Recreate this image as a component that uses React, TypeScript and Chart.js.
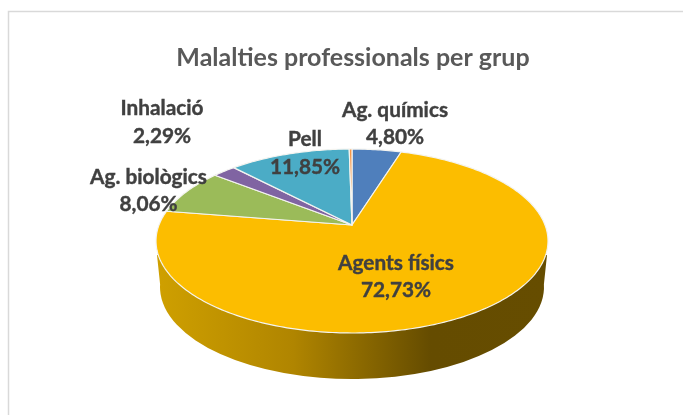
import React, { useEffect, useRef } from "react";
import { Chart, registerables } from "chart.js";

Chart.register(...registerables);

const categories = ["Ag. químics", "Agents físics", "Ag. biològics", "Inhalació", "Pell", "Altres"];
const shares = [4.8, 72.73, 8.06, 2.29, 11.85, 0.27];
const colors = ["#4f7fbc", "#fcbd00", "#9bbb59", "#8064a2", "#4bacc6", "#f79646"];

const FONT = "Lato, Carlito, sans-serif";

// Tilted-disc projection of the pie (plane circle -> screen)
const view = { cx: 352, cy: 225, rx: 193, ry: 89.2, k: 0.174 };
const project = (angle: number) => {
  const u = Math.cos(angle);
  const v = Math.sin(angle);
  const w = 1 - view.k * v;
  return [view.cx + (view.rx * u) / w, view.cy + (view.ry * v) / w];
};

const pie3d = {
  id: "pie3d",
  beforeDraw(chart: any) {
    const { ctx, width, height } = chart;
    ctx.save();
    ctx.fillStyle = "#ffffff";
    ctx.fillRect(0, 0, width, height);
    ctx.strokeStyle = "#d9d9d9";
    ctx.lineWidth = 1.5;
    ctx.beginPath();
    ctx.moveTo(8.5, height);
    ctx.lineTo(8.5, 11.5);
    ctx.lineTo(width, 11.5);
    ctx.stroke();
    ctx.restore();
  },
  beforeDatasetDraw(chart: any, args: any) {
    const { ctx } = chart;
    const arcs = args.meta.data;
    ctx.save();
    // side wall
    const wall = ctx.createLinearGradient(156, 0, 548, 0);
    wall.addColorStop(0, "#cfa000");
    wall.addColorStop(0.35, "#b08500");
    wall.addColorStop(0.7, "#654c00");
    wall.addColorStop(1, "#664d00");
    ctx.fillStyle = wall;
    ctx.beginPath();
    ctx.moveTo(547, 255);
    ctx.ellipse(352, 287, 192, 92, 0, -0.03, Math.PI + 0.03);
    ctx.lineTo(157, 255);
    ctx.closePath();
    ctx.fill();
    // top face
    ctx.lineJoin = "round";
    ctx.lineWidth = 1.2;
    ctx.strokeStyle = "#f4f4f0";
    arcs.forEach((arc: any, i: number) => {
      const { startAngle, endAngle } = arc.getProps(["startAngle", "endAngle"], true);
      ctx.beginPath();
      ctx.moveTo(view.cx, view.cy);
      const steps = Math.max(2, Math.ceil((endAngle - startAngle) * 60));
      for (let s = 0; s <= steps; s++) {
        const [x, y] = project(startAngle + ((endAngle - startAngle) * s) / steps);
        ctx.lineTo(x, y);
      }
      ctx.closePath();
      ctx.fillStyle = colors[i];
      ctx.fill();
      ctx.stroke();
    });
    ctx.restore();
    return false;
  },
  afterDatasetsDraw(chart: any) {
    const { ctx } = chart;
    const layout: Record<string, [number, number]> = {
      "Ag. químics": [395, 110],
      "Agents físics": [396, 263],
      "Ag. biològics": [148.5, 177],
      "Inhalació": [162, 108.5],
      "Pell": [305, 139.5],
    };
    ctx.save();
    ctx.fillStyle = "#404040";
    ctx.strokeStyle = "#404040";
    ctx.lineWidth = 0.4;
    ctx.font = `bold 20.8px ${FONT}`;
    ctx.textAlign = "center";
    ctx.textBaseline = "middle";
    categories.forEach((name, i) => {
      const at = layout[name];
      if (!at) return;
      const pct = shares[i].toFixed(2).replace(".", ",") + "%";
      ctx.fillText(name, at[0], at[1]);
      ctx.strokeText(name, at[0], at[1]);
      ctx.fillText(pct, at[0], at[1] + 27.5);
      ctx.strokeText(pct, at[0], at[1] + 27.5);
    });
    ctx.restore();
  },
};

export default function App() {
  const ref = useRef<HTMLCanvasElement>(null);
  useEffect(() => {
    const chart = new Chart(ref.current!, {
      type: "pie",
      data: {
        labels: categories,
        datasets: [{ data: shares, backgroundColor: colors, borderWidth: 0 }],
      },
      options: {
        animation: false,
        responsive: false,
        layout: { padding: { left: 23 } },
        plugins: {
          legend: { display: false },
          tooltip: { enabled: false },
          title: {
            display: true,
            text: "Malalties professionals per grup",
            fullSize: false,
            color: "#595959",
            font: { family: FONT, size: 25, weight: "bold" },
            padding: { top: 43, bottom: 8 },
          },
        },
      },
      plugins: [pie3d],
    } as any);
    return () => chart.destroy();
  }, []);
  return (
    <canvas
      ref={ref}
      width={683}
      height={415}
      style={{ position: "fixed", left: 0, top: 0, width: 683, height: 415 }}
    />
  );
}
